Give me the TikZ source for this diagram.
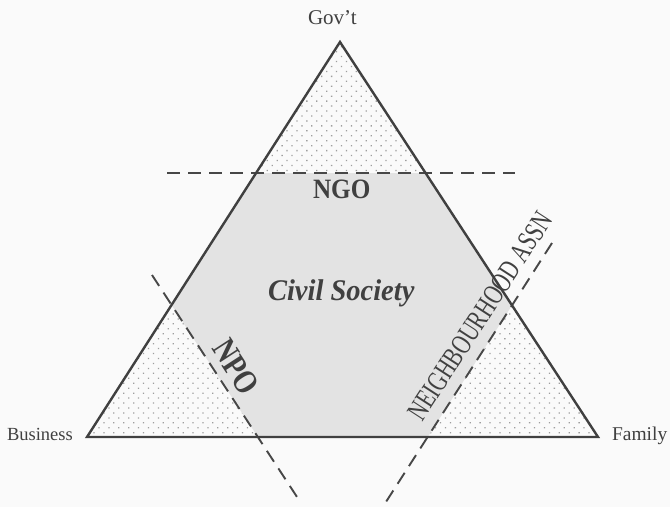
\documentclass[tikz,border=0pt]{standalone}
\usepackage{fontspec}
\setmainfont{Liberation Serif}
\usetikzlibrary{patterns.meta,calc}
\begin{document}
\begin{tikzpicture}[x=1pt,y=-1pt,
  edge/.style={line width=2.4pt, draw=black!75, line join=miter},
  cutline/.style={line width=1.9pt, draw=black!72, dash pattern=on 13pt off 8pt},
  lbl/.style={text=black!75, inner sep=0pt, outer sep=0pt},
  sparse/.style={pattern={Dots[distance=7pt, angle=45, radius=0.9pt]}, pattern color=black!38},
  dense/.style={fill=black!11},
]
\fill[black!2] (0,0) rectangle (670,507);
\useasboundingbox (0,0) rectangle (670,507);
% triangle corners
\coordinate (G) at (340,42);
\coordinate (B) at (87,437);
\coordinate (F) at (598,437);
% dashed line ends
\coordinate (H1) at (167,173);
\coordinate (H2) at (515,173);
\coordinate (P1) at (152,275);
\coordinate (P2) at (299,500);
\coordinate (N1) at (552,243);
\coordinate (N2) at (384,505);
% intersections
\coordinate (HL) at (intersection of H1--H2 and B--G);
\coordinate (HR) at (intersection of H1--H2 and F--G);
\coordinate (PL) at (intersection of P1--P2 and B--G);
\coordinate (PB) at (intersection of P1--P2 and B--F);
\coordinate (NR) at (intersection of N1--N2 and F--G);
\coordinate (NB) at (intersection of N1--N2 and B--F);
% shading
\path[sparse] (G) -- (B) -- (F) -- cycle;
\path[dense] (HL) -- (HR) -- (NR) -- (NB) -- (PB) -- (PL) -- cycle;
% dashed lines
\draw[cutline] (H1) -- (H2);
\draw[cutline] (P1) -- (P2);
\draw[cutline] (N1) -- (N2);
% triangle
\draw[edge] (G) -- (B) -- (F) -- cycle;
% labels
\node[lbl, anchor=base west, font=\fontsize{21}{21}\selectfont] (gov) at (308,24) {Gov't};
\node[lbl, anchor=base west, font=\fontsize{18.5}{18.5}\selectfont] (bus) at (7,440) {Business};
\node[lbl, anchor=base west, font=\fontsize{19.5}{19.5}\selectfont] (fam) at (612,440) {Family};
\node[lbl, anchor=base west, font=\fontsize{28}{28}\selectfont\bfseries] (ngo) at (313,198) {\scalebox{0.9}[1]{NGO}};
\node[lbl, anchor=base west, font=\fontsize{30}{30}\selectfont\bfseries\itshape] (cs) at (268,300) {\scalebox{0.95}[1]{Civil Society}};
\node[lbl, rotate=-57, font=\fontsize{34}{34}\selectfont\bfseries] (npo) at (236,367) {\scalebox{0.8}[1]{NPO}};
\node[lbl, rotate=57, font=\fontsize{29}{29}\selectfont] (na) at (480,316) {\scalebox{0.72}[1]{NEIGHBOURHOOD ASSN}};
\end{tikzpicture}
\end{document}
